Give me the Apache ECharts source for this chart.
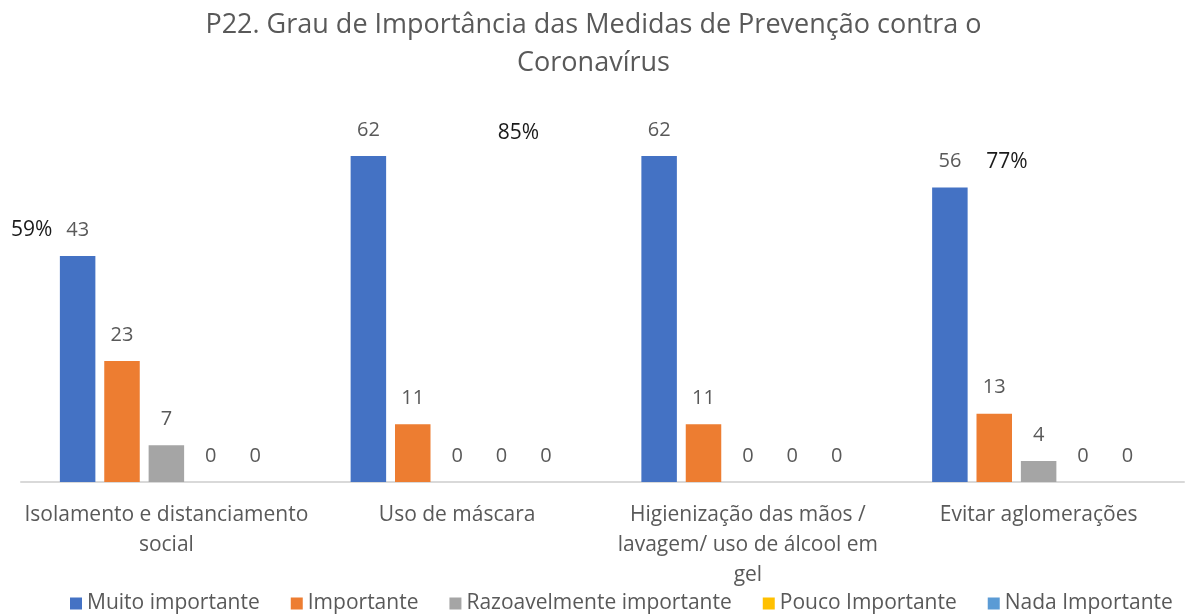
<!DOCTYPE html>
<html>
<head>
<meta charset="utf-8">
<script src="https://cdn.jsdelivr.net/npm/echarts@6/dist/echarts.min.js"></script>
<style>
html,body{margin:0;padding:0;background:#fff;}
#c{width:1187px;height:614px;}
</style>
</head>
<body>
<div id="c"></div>
<script>
const titleText = 'P22. Grau de Importância das Medidas de Prevenção contra o\nCoronavírus';
const categories = [
  'Isolamento e distanciamento\nsocial',
  'Uso de máscara',
  'Higienização das mãos /\nlavagem/ uso de álcool em\ngel',
  'Evitar aglomerações'
];
const seriesNames = ['Muito importante', 'Importante', 'Razoavelmente importante', 'Pouco Importante', 'Nada Importante'];
const muitoImportante = [43, 62, 62, 56];
const importante = [23, 11, 11, 13];
const razoavelmente = [7, 0, 0, 4];
const poucoImportante = [0, 0, 0, 0];
const nadaImportante = [0, 0, 0, 0];
const pctCategoryIndex = [0, 1, 3];
const pctLabels = ['59%', '85%', '77%'];

const colors = ['#4472C4', '#ED7D31', '#A5A5A5', '#FFC000', '#5B9BD5'];
const values = [muitoImportante, importante, razoavelmente, poucoImportante, nadaImportante];
const FONT = '"Open Sans"';
const pctOffsets = [[-46, -26], [150, -23], [57, -26]];

const series = seriesNames.map((name, i) => {
  const s = {
    name: name,
    type: 'bar',
    data: values[i],
    barWidth: 35.5,
    barGap: '25%',
    itemStyle: { color: colors[i] },
    label: {
      show: true,
      position: 'top',
      distance: 16,
      color: '#595959',
      fontSize: 20,
      fontFamily: FONT
    }
  };
  if (i === 0) {
    s.markPoint = {
      symbol: 'circle',
      symbolSize: 0,
      silent: true,
      data: pctCategoryIndex.map((ci, k) => ({
        coord: [ci, muitoImportante[ci]],
        value: pctLabels[k],
        label: { offset: pctOffsets[k] }
      })),
      label: {
        show: true,
        position: 'inside',
        formatter: p => p.value,
        color: '#1a1a1a',
        fontSize: 21,
        fontFamily: FONT
      }
    };
  }
  return s;
});

const chart = echarts.init(document.getElementById('c'), null, { renderer: 'canvas' });
chart.setOption({
  animation: false,
  backgroundColor: '#ffffff',
  color: colors,
  title: {
    text: titleText,
    left: 'center',
    top: 1,
    textStyle: {
      color: '#595959',
      fontSize: 27,
      fontWeight: 'normal',
      fontFamily: FONT,
      lineHeight: 38
    }
  },
  legend: {
    left: 65,
    top: 588,
    itemWidth: 12,
    itemHeight: 12,
    itemGap: 31,
    icon: 'rect',
    textStyle: { color: '#595959', fontSize: 21, fontFamily: FONT }
  },
  grid: { left: 21, right: 3, top: 114, bottom: 132, containLabel: false },
  xAxis: {
    type: 'category',
    data: categories,
    axisLine: { lineStyle: { color: '#D9D9D9', width: 2 } },
    axisTick: { show: false },
    axisLabel: {
      interval: 0,
      margin: 18,
      color: '#595959',
      fontSize: 21,
      lineHeight: 30,
      fontFamily: FONT
    }
  },
  yAxis: {
    type: 'value',
    min: 0,
    max: 70,
    show: false,
    splitLine: { show: false }
  },
  series: series
});
</script>
</body>
</html>
